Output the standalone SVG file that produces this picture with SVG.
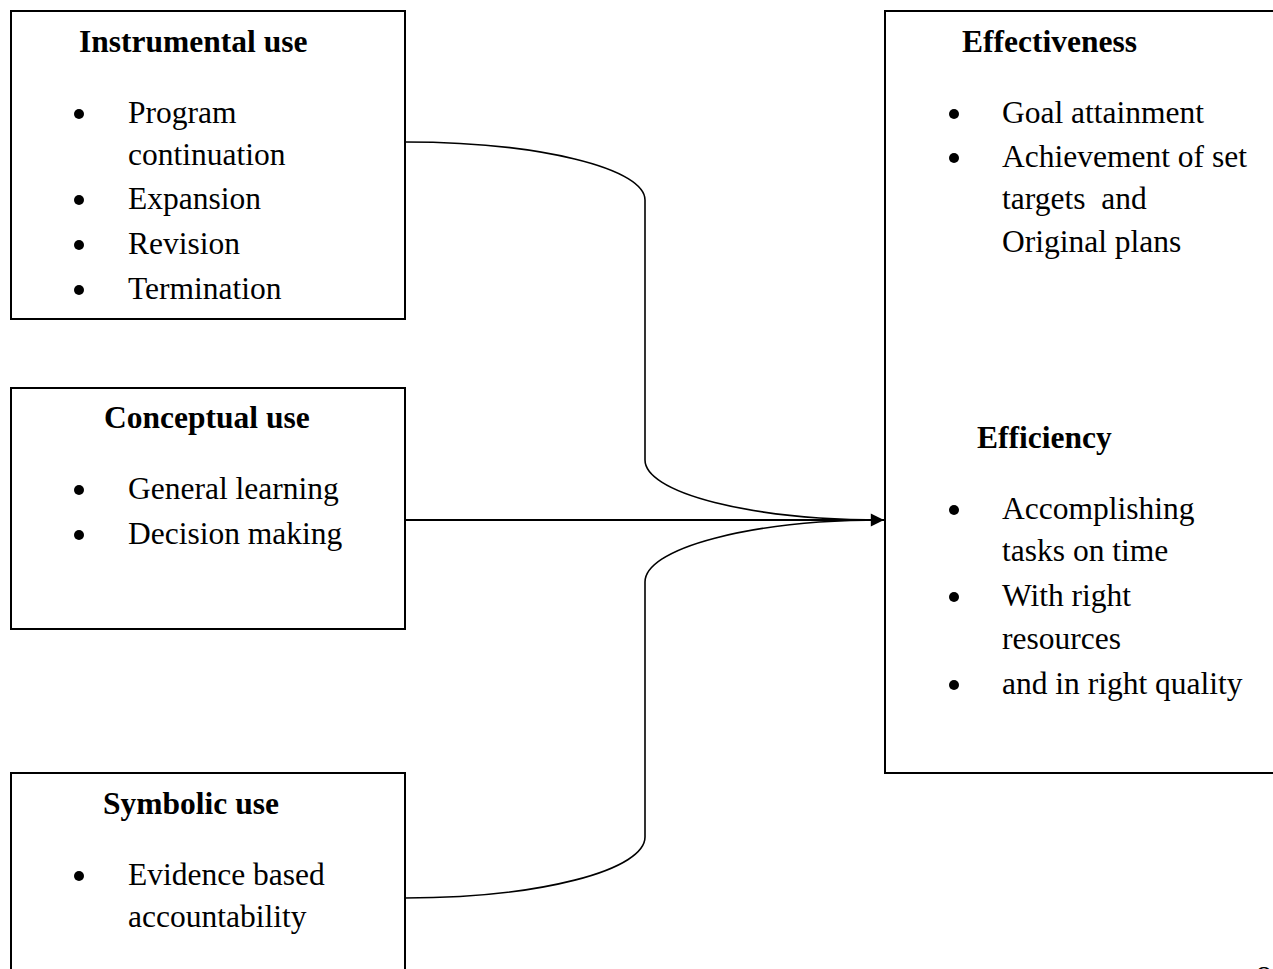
<svg xmlns="http://www.w3.org/2000/svg" width="1273" height="969" viewBox="0 0 1273 969">
<style>
.box{fill:#fff;stroke:#000;stroke-width:2}
.t{font-family:"Liberation Serif","Times New Roman",serif;font-size:31.5px;fill:#000}
.b{font-weight:bold}
.dot{fill:#000}
.con{fill:none;stroke:#000;stroke-width:1.6}
</style>
<defs>
<marker id="arr" viewBox="0 0 10 10" refX="10" refY="5" markerWidth="7" markerHeight="6" markerUnits="strokeWidth" orient="auto">
<path d="M0,0 L10,5 L0,10 z" fill="#000"/>
</marker>
</defs>
<rect width="1273" height="969" fill="#fff"/>
<g id="instrumental">
<rect class="box" x="11" y="11" width="394" height="308"/>
<text class="t b" x="79" y="52">Instrumental use</text>
<circle class="dot" cx="79" cy="114" r="5"/>
<text class="t" x="128" y="123">Program</text>
<text class="t" x="128" y="165">continuation</text>
<circle class="dot" cx="79" cy="200" r="5"/>
<text class="t" x="128" y="209">Expansion</text>
<circle class="dot" cx="79" cy="245" r="5"/>
<text class="t" x="128" y="254">Revision</text>
<circle class="dot" cx="79" cy="290" r="5"/>
<text class="t" x="128" y="299">Termination</text>
</g>
<g id="conceptual">
<rect class="box" x="11" y="388" width="394" height="241"/>
<text class="t b" x="104" y="428">Conceptual use</text>
<circle class="dot" cx="79" cy="490" r="5"/>
<text class="t" x="128" y="499">General learning</text>
<circle class="dot" cx="79" cy="535" r="5"/>
<text class="t" x="128" y="544">Decision making</text>
</g>
<g id="symbolic">
<rect class="box" x="11" y="773" width="394" height="210"/>
<text class="t b" x="103" y="814">Symbolic use</text>
<circle class="dot" cx="79" cy="876" r="5"/>
<text class="t" x="128" y="885">Evidence based</text>
<text class="t" x="128" y="927">accountability</text>
</g>
<g id="outcomes">
<rect class="box" x="885" y="11" width="400" height="762"/>
<text class="t b" x="962" y="52">Effectiveness</text>
<circle class="dot" cx="954" cy="114" r="5"/>
<text class="t" x="1002" y="123">Goal attainment</text>
<circle class="dot" cx="954" cy="158" r="5"/>
<text class="t" x="1002" y="167">Achievement of set</text>
<text class="t" x="1002" y="209" xml:space="preserve">targets  and</text>
<text class="t" x="1002" y="252">Original plans</text>
<text class="t b" x="977" y="448">Efficiency</text>
<circle class="dot" cx="954" cy="510" r="5"/>
<text class="t" x="1002" y="519">Accomplishing</text>
<text class="t" x="1002" y="561">tasks on time</text>
<circle class="dot" cx="954" cy="597" r="5"/>
<text class="t" x="1002" y="606">With right</text>
<text class="t" x="1002" y="649">resources</text>
<circle class="dot" cx="954" cy="685" r="5"/>
<text class="t" x="1002" y="694">and in right quality</text>
</g>
<g id="page-number">
<text class="t" x="1256" y="988">8</text>
</g>
<g id="connectors">
<path class="con" d="M405,142 A240,58 0 0 1 645,200 L645,460 A238,60 0 0 0 883,520"/>
<path class="con" d="M405,898 A240,61 0 0 0 645,837 L645,582 A238,62 0 0 1 883,520"/>
<line x1="405" y1="520" x2="884" y2="520" stroke="#000" stroke-width="2.2" marker-end="url(#arr)"/>
</g>
</svg>
